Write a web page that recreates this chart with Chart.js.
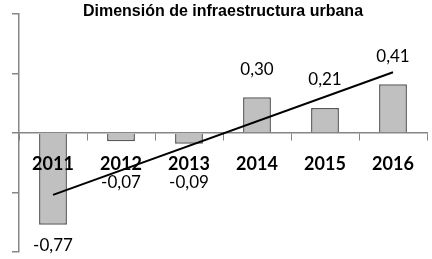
<!DOCTYPE html>
<html>
<head>
<meta charset="utf-8">
<script src="https://cdn.jsdelivr.net/npm/chart.js@4/dist/chart.umd.min.js"></script>
<style>
  html, body { margin: 0; padding: 0; background: #fff; }
  #wrap { width: 432px; height: 259px; }
</style>
</head>
<body>
<div id="wrap"><canvas id="c" width="432" height="259"></canvas></div>
<script>
const titleText = "Dimensión de infraestructura urbana";
const categories = ["2011", "2012", "2013", "2014", "2015", "2016"];
const values = [-0.77, -0.07, -0.09, 0.30, 0.21, 0.41];
const valueLabels = ["-0,77", "-0,07", "-0,09", "0,30", "0,21", "0,41"];
const trendValues = [-0.52, null, null, null, null, 0.51];
const yTicks = [-1, -0.5, 0, 0.5, 1];

const labelPlugin = {
  id: 'barLabels',
  afterDatasetsDraw(chart) {
    const ctx = chart.ctx;
    const meta = chart.getDatasetMeta(1);
    const zero = chart.scales.y.getPixelForValue(0);
    ctx.save();
    ctx.font = '17px Lato';
    ctx.fillStyle = '#000';
    ctx.textAlign = 'center';
    ctx.textBaseline = 'middle';
    meta.data.forEach((el, i) => {
      const v = values[i];
      let y;
      if (v >= 0) {
        y = el.y - 28;
      } else {
        y = Math.max(el.y + 21, zero + 50);
      }
      ctx.fillText(valueLabels[i], el.x, y);
    });
    ctx.restore();
  },
  afterDraw(chart) {
    const ctx = chart.ctx;
    const a = chart.chartArea;
    ctx.save();
    ctx.font = 'bold 16px "Liberation Sans", Arial, sans-serif';
    ctx.fillStyle = '#000';
    ctx.textAlign = 'center';
    ctx.textBaseline = 'middle';
    ctx.fillText(titleText, (a.left + a.right) / 2, 12);
    ctx.restore();
  }
};

new Chart(document.getElementById('c'), {
  data: {
    labels: categories,
    datasets: [
      {
        type: 'line',
        data: trendValues,
        spanGaps: true,
        borderColor: '#000',
        borderWidth: 2,
        pointRadius: 0,
        fill: false,
        order: 0
      },
      {
        type: 'bar',
        data: values,
        backgroundColor: '#c0c0c0',
        borderColor: '#595959',
        borderWidth: 1.5,
        barPercentage: 0.41,
        categoryPercentage: 1.0,
        order: 1
      }
    ]
  },
  options: {
    responsive: false,
    animation: false,
    events: [],
    layout: { padding: { left: 0, right: 5, top: 14, bottom: 7 } },
    plugins: {
      legend: { display: false },
      tooltip: { enabled: false },
      title: { display: false }
    },
    scales: {
      x: {
        position: { y: 0 },
        offset: true,
        grid: {
          display: true,
          offset: true,
          drawOnChartArea: false,
          drawTicks: true,
          tickLength: 7,
          color: '#868686',
          lineWidth: 1
        },
        border: { display: true, color: '#868686', width: 1.5 },
        ticks: {
          z: 1,
          font: { family: 'Lato', size: 18, weight: 'bold' },
          color: '#000',
          padding: 13,
          maxRotation: 0
        }
      },
      y: {
        min: -1,
        max: 1,
        afterFit(scale) { scale.width = 19; },
        afterBuildTicks(scale) { scale.ticks = yTicks.map(v => ({ value: v })); },
        grid: {
          display: true,
          drawOnChartArea: false,
          drawTicks: true,
          tickLength: 7,
          color: '#868686',
          lineWidth: 1.5
        },
        border: { display: true, color: '#868686', width: 1.5 },
        ticks: { display: false }
      }
    }
  },
  plugins: [labelPlugin]
});
</script>
</body>
</html>
